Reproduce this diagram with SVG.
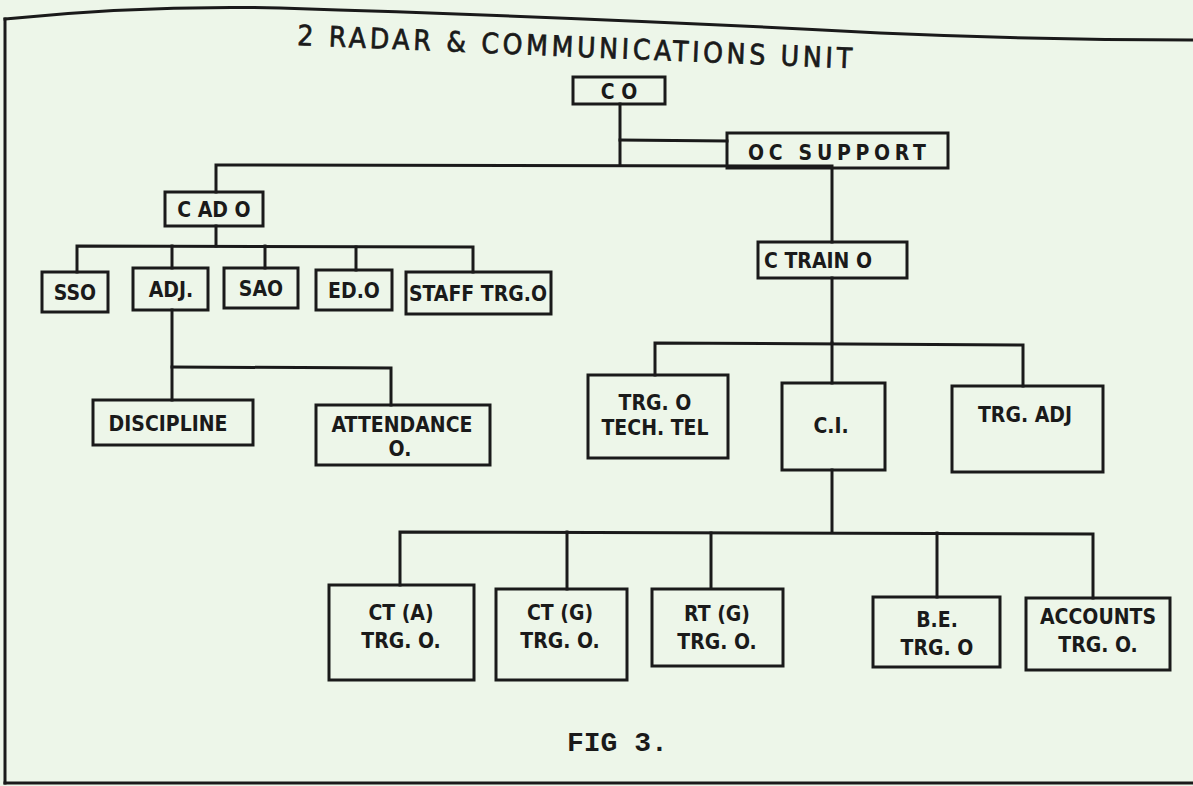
<svg xmlns="http://www.w3.org/2000/svg" width="1193" height="786" viewBox="0 0 1193 786">
<style>
.bx{fill:none;stroke:#1a1a1a;stroke-width:3}
.ln{fill:none;stroke:#1a1a1a;stroke-width:3;stroke-linecap:square}
.t{font-family:"DejaVu Sans Condensed","DejaVu Sans",sans-serif;font-weight:bold;font-size:21px;fill:#1a1a1a;text-anchor:middle}
.title{font-family:"DejaVu Sans Condensed","DejaVu Sans",sans-serif;font-size:28px;fill:#1a1a1a;stroke:#1a1a1a;stroke-width:0.7}
.fig{font-family:"Liberation Mono","DejaVu Sans Mono",monospace;font-weight:bold;font-size:28px;fill:#1a1a1a}
</style>
<rect x="0" y="0" width="1193" height="786" fill="#edf6e9"/>
<g id="frame" class="ln">
<path d="M5,19 Q140,5 280,8 Q600,18 880,33 Q1040,40 1193,40"/>
<path d="M5,19 L5,783"/>
<path d="M5,783 L1193,783"/>
</g>
<text id="title" class="title" x="297" y="45" textLength="555" transform="rotate(2.4 297 45)">2 RADAR &amp; COMMUNICATIONS UNIT</text>
<g id="connectors" class="ln">
<path d="M620,104 L620,165"/>
<path d="M620,140 L727,141"/>
<path d="M216,192 L216,165 L832,166 L832,242"/>
<path d="M216,226 L216,246"/>
<path d="M77,272 L77,246 L473,247 L473,272"/>
<path d="M172,246 L172,268"/>
<path d="M265,246 L265,268"/>
<path d="M356,247 L356,270"/>
<path d="M172,310 L172,400"/>
<path d="M172,367 L391,368 L391,405"/>
<path d="M832,278 L832,343"/>
<path d="M655,375 L655,343 L1023,345 L1023,386"/>
<path d="M832,343 L832,383"/>
<path d="M832,470 L832,532"/>
<path d="M400,585 L400,532 L1093,534 L1093,598"/>
<path d="M567,532 L567,589"/>
<path d="M711,533 L711,587"/>
<path d="M937,533 L937,597"/>
</g>
<g id="co"><rect class="bx" x="573" y="77" width="92" height="27"/><text class="t" x="619" y="99">C O</text></g>
<g id="oc-support"><rect class="bx" x="727" y="133" width="221" height="35"/><text class="t" x="837" y="160" textLength="178">OC SUPPORT</text></g>
<g id="cado"><rect class="bx" x="165" y="192" width="98" height="34"/><text class="t" x="214" y="217">C AD O</text></g>
<g id="sso"><rect class="bx" x="42" y="272" width="66" height="40"/><text class="t" x="75" y="300">SSO</text></g>
<g id="adj"><rect class="bx" x="133" y="268" width="75" height="42"/><text class="t" x="171" y="297">ADJ.</text></g>
<g id="sao"><rect class="bx" x="224" y="268" width="74" height="40"/><text class="t" x="261" y="296">SAO</text></g>
<g id="ed-o"><rect class="bx" x="316" y="270" width="76" height="40"/><text class="t" x="354" y="298">ED.O</text></g>
<g id="staff-trg-o"><rect class="bx" x="406" y="272" width="145" height="42"/><text class="t" x="478" y="301">STAFF TRG.O</text></g>
<g id="discipline"><rect class="bx" x="93" y="400" width="160" height="45"/><text class="t" x="168" y="431">DISCIPLINE</text></g>
<g id="attendance"><rect class="bx" x="316" y="405" width="174" height="60"/><text class="t" x="402" y="432">ATTENDANCE</text><text class="t" x="400" y="456">O.</text></g>
<g id="c-train-o"><rect class="bx" x="758" y="242" width="149" height="36"/><text class="t" x="818" y="268">C TRAIN O</text></g>
<g id="trg-o-tech-tel"><rect class="bx" x="588" y="375" width="140" height="83"/><text class="t" x="655" y="410">TRG. O</text><text class="t" x="655" y="435">TECH. TEL</text></g>
<g id="ci"><rect class="bx" x="782" y="383" width="103" height="87"/><text class="t" x="831" y="433">C.I.</text></g>
<g id="trg-adj"><rect class="bx" x="952" y="386" width="151" height="86"/><text class="t" x="1025" y="422">TRG. ADJ</text></g>
<g id="ct-a"><rect class="bx" x="329" y="585" width="145" height="95"/><text class="t" x="401" y="620">CT (A)</text><text class="t" x="401" y="648">TRG. O.</text></g>
<g id="ct-g"><rect class="bx" x="496" y="589" width="131" height="91"/><text class="t" x="560" y="620">CT (G)</text><text class="t" x="560" y="648">TRG. O.</text></g>
<g id="rt-g"><rect class="bx" x="652" y="589" width="131" height="77"/><text class="t" x="717" y="621">RT (G)</text><text class="t" x="717" y="649">TRG. O.</text></g>
<g id="be"><rect class="bx" x="873" y="597" width="127" height="70"/><text class="t" x="937" y="627">B.E.</text><text class="t" x="937" y="655">TRG. O</text></g>
<g id="accounts"><rect class="bx" x="1026" y="598" width="144" height="72"/><text class="t" x="1098" y="624">ACCOUNTS</text><text class="t" x="1098" y="652">TRG. O.</text></g>
<text id="fig" class="fig" x="567" y="751">FIG 3.</text>
</svg>
